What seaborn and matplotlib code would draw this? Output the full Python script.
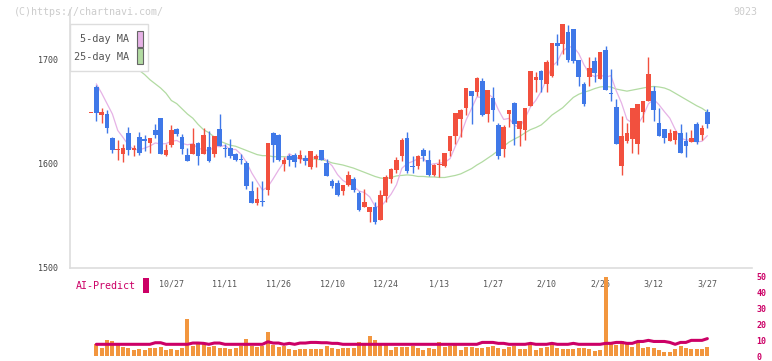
import numpy as np
import pandas as pd
import matplotlib
matplotlib.use('Agg')
import matplotlib.pyplot as plt
from matplotlib.patches import Rectangle
import seaborn as sns

sns.set_theme(style='white')
plt.rcParams['font.family'] = ['DejaVu Sans Mono', 'DejaVu Sans']

# === DATA ===
# candle 0 is the flat marker left of the first bar
opens = [1649, 1674, 1647, 1648, 1625, 1613, 1610, 1630, 1613, 1626, 1624, 1620, 1633, 1644, 1609, 1618,
         1634, 1626, 1609, 1610, 1620, 1610, 1616, 1610, 1634, 1615, 1615, 1610, 1605, 1601, 1574, 1562,
         1564, 1575, 1630, 1628, 1600, 1608, 1609, 1605, 1606, 1597, 1605, 1613, 1601, 1584, 1582, 1574,
         1580, 1586, 1572, 1559, 1554, 1559, 1546, 1569, 1586, 1594, 1608, 1625, 1598, 1598, 1613, 1604,
         1589, 1599, 1598, 1612, 1627, 1643, 1654, 1670, 1669, 1680, 1648, 1663, 1637, 1614, 1648, 1659,
         1634, 1633, 1656, 1681, 1689, 1677, 1685, 1716, 1715, 1727, 1730, 1700, 1677, 1684, 1699, 1682,
         1710, 1668, 1655, 1598, 1622, 1624, 1619, 1650, 1661, 1670, 1639, 1634, 1622, 1623, 1630, 1622,
         1621, 1638, 1628, 1650]
highs = [1649, 1676, 1654, 1652, 1626, 1623, 1619, 1636, 1618, 1631, 1628, 1625, 1638, 1644, 1619, 1637,
         1635, 1629, 1615, 1635, 1621, 1635, 1632, 1627, 1648, 1619, 1624, 1611, 1610, 1603, 1584, 1578,
         1584, 1620, 1631, 1629, 1607, 1610, 1611, 1613, 1609, 1612, 1610, 1613, 1605, 1586, 1585, 1580,
         1593, 1587, 1574, 1576, 1559, 1563, 1575, 1589, 1596, 1607, 1625, 1631, 1608, 1609, 1615, 1613,
         1600, 1605, 1611, 1627, 1649, 1653, 1673, 1670, 1684, 1683, 1671, 1674, 1639, 1637, 1652, 1660,
         1641, 1654, 1689, 1688, 1690, 1700, 1716, 1725, 1735, 1734, 1730, 1700, 1679, 1703, 1703, 1708,
         1713, 1691, 1662, 1646, 1639, 1654, 1658, 1661, 1703, 1675, 1654, 1634, 1634, 1632, 1638, 1631,
         1633, 1640, 1637, 1653]
lows = [1649, 1641, 1639, 1630, 1611, 1604, 1602, 1609, 1608, 1609, 1612, 1611, 1625, 1610, 1608, 1616,
        1627, 1610, 1603, 1610, 1599, 1610, 1602, 1607, 1617, 1607, 1606, 1603, 1600, 1576, 1562, 1561,
        1560, 1570, 1602, 1603, 1593, 1598, 1597, 1601, 1599, 1595, 1597, 1604, 1588, 1577, 1569, 1570,
        1579, 1573, 1555, 1559, 1544, 1542, 1546, 1563, 1582, 1591, 1603, 1591, 1591, 1595, 1603, 1588,
        1588, 1587, 1597, 1608, 1619, 1626, 1647, 1638, 1665, 1646, 1640, 1641, 1605, 1607, 1636, 1618,
        1617, 1623, 1656, 1669, 1669, 1669, 1684, 1695, 1706, 1698, 1697, 1675, 1656, 1675, 1679, 1682,
        1671, 1661, 1619, 1589, 1620, 1611, 1610, 1640, 1661, 1641, 1627, 1620, 1622, 1619, 1611, 1607,
        1621, 1619, 1623, 1635]
closes = [1649, 1649, 1650, 1635, 1613, 1614, 1615, 1613, 1615, 1611, 1622, 1625, 1628, 1610, 1613, 1633,
          1629, 1614, 1603, 1619, 1608, 1628, 1603, 1627, 1617, 1614, 1608, 1604, 1604, 1579, 1562, 1566,
          1563, 1620, 1618, 1604, 1604, 1604, 1602, 1609, 1603, 1612, 1608, 1604, 1588, 1579, 1570, 1580,
          1589, 1575, 1556, 1563, 1559, 1544, 1570, 1587, 1595, 1604, 1623, 1593, 1597, 1608, 1608, 1589,
          1599, 1600, 1611, 1627, 1649, 1652, 1673, 1665, 1683, 1647, 1671, 1652, 1608, 1636, 1652, 1638,
          1641, 1654, 1689, 1684, 1681, 1698, 1716, 1713, 1735, 1700, 1699, 1684, 1658, 1692, 1687, 1708,
          1671, 1667, 1619, 1627, 1630, 1654, 1658, 1661, 1686, 1652, 1627, 1625, 1630, 1632, 1611, 1617,
          1625, 1621, 1635, 1638]

# 5-day MA at the first four days (older closes are not on the chart)
ma5_start = [1677, 1668, 1658, 1648]

# 25-day MA, days 1..115
ma25 = [1728, 1723, 1718, 1713, 1708, 1704, 1699, 1695, 1690, 1686, 1681, 1677, 1673, 1668, 1661, 1658,
        1653, 1648, 1644, 1638, 1633, 1630, 1626, 1622, 1620, 1618, 1617, 1615, 1613, 1611, 1609, 1608,
        1608, 1607, 1607, 1607, 1606.5, 1606, 1605.5, 1605, 1605, 1604.5, 1604, 1603, 1601, 1600, 1599,
        1597.5, 1596, 1594, 1592, 1590, 1588, 1586.5, 1586, 1587, 1588.5, 1589, 1589.5, 1589, 1588, 1588,
        1587.5, 1587.5, 1587, 1587, 1588, 1589, 1590.5, 1593, 1595.5, 1599, 1602, 1605.5, 1609, 1613, 1617,
        1621, 1624, 1626.5, 1630, 1633, 1635, 1637.5, 1642, 1647, 1650.5, 1654, 1659, 1664, 1667, 1669,
        1670.5, 1672.5, 1674, 1674.5, 1674, 1672, 1671, 1670, 1671, 1672, 1673, 1674, 1674.5, 1674, 1673,
        1671, 1668, 1665, 1662, 1659, 1656, 1653.5, 1650]

# volume panel, days 1..115
volume = [7.4, 4.8, 9.9, 9.3, 7.4, 5.5, 4.8, 3.6, 4.2, 3.6, 4.8, 4.8, 5.5, 3.6, 4.2, 3.6, 4.8, 23.7, 6.1,
          8.6, 7.4, 5.5, 6.1, 4.8, 4.8, 4.2, 4.8, 6.1, 10.5, 6.1, 5.5, 6.1, 15.5, 6.8, 5.5, 6.1, 4.2, 3.6,
          4.2, 4.2, 4.2, 4.2, 4.2, 6.1, 4.8, 4.2, 4.8, 4.8, 4.8, 8.6, 7.4, 12.4, 9.9, 7.4, 7.4, 3.6, 5.5,
          5.5, 5.5, 6.1, 4.8, 3.6, 4.8, 4.2, 8.6, 5.5, 6.1, 6.8, 3.6, 5.5, 5.5, 4.8, 4.8, 5.5, 6.1, 4.8,
          4.2, 5.5, 6.1, 4.2, 4.2, 7.4, 3.6, 4.8, 5.5, 7.4, 4.8, 4.2, 4.2, 4.2, 4.8, 4.8, 4.2, 3.0, 3.6,
          49.9, 7.4, 6.7, 9.2, 7.4, 5.5, 8.0, 4.8, 5.5, 4.8, 3.6, 2.3, 2.3, 4.2, 6.1, 4.8, 4.2, 4.2, 4.2,
          5.5]
ai_predict = [7.4, 7.4, 7.4, 7.4, 7.4, 7.4, 7.4, 7.4, 7.4, 7.4, 7.4, 8.4, 8.4, 7.4, 7.4, 7.4, 7.4, 7.4,
              8.2, 8.2, 8.0, 7.4, 8.2, 8.2, 7.4, 7.4, 7.4, 7.4, 7.4, 7.4, 7.4, 7.4, 9.0, 8.2, 8.2, 7.4,
              8.0, 7.4, 8.2, 8.2, 8.6, 8.6, 8.4, 8.4, 8.0, 8.0, 7.4, 7.4, 7.4, 7.4, 7.4, 7.4, 7.4, 7.4,
              7.4, 7.4, 7.4, 7.4, 7.4, 7.4, 7.4, 7.4, 7.4, 7.4, 7.4, 7.4, 7.4, 7.4, 7.4, 7.4, 7.4, 7.4,
              8.6, 8.6, 8.6, 8.0, 8.0, 7.4, 7.4, 7.4, 7.4, 8.0, 7.4, 7.4, 7.4, 8.0, 7.4, 7.4, 7.4, 8.0,
              7.4, 7.4, 7.4, 7.4, 7.4, 8.0, 8.0, 8.6, 8.6, 8.0, 8.0, 9.2, 9.2, 9.9, 9.2, 9.2, 9.2, 8.6,
              7.4, 8.6, 8.6, 9.9, 9.9, 9.9, 11.0]

date_labels = ['10/27', '11/11', '11/26', '12/10', '12/24', '1/13', '1/27', '2/10', '2/26', '3/12', '3/27']
date_pos = [15, 25, 35, 45, 55, 65, 75, 85, 95, 105, 115]

# === BUILD ===
df = pd.DataFrame({'open': opens, 'high': highs, 'low': lows, 'close': closes})
df['day'] = np.arange(len(df))
df['ma5'] = df['close'].rolling(5).mean()
df.loc[1:4, 'ma5'] = ma5_start
df.loc[0, 'ma5'] = np.nan
df['ma25'] = [np.nan] + ma25
days = df['day'].values[1:]

RED, BLUE = '#F2503E', '#3F78E8'
colors = np.where(df['close'] >= df['open'], RED, BLUE)

W, H = 772, 361
fig = plt.figure(figsize=(W / 100, H / 100), dpi=100, facecolor='white')

def fx(px):
    return px / W

def fy(py):
    return 1 - py / H

x0, x1 = -3.91, 123.33
ax = fig.add_axes([fx(70), fy(268), fx(752) - fx(70), fy(10) - fy(268)])
ax.set_xlim(x0, x1)
ax.set_ylim(1500, 1748)

# moving averages behind the candles
sns.lineplot(x=days, y=df['ma25'].values[1:], ax=ax, color='#B2DBA2', lw=0.9, zorder=1)
sns.lineplot(x=days, y=df['ma5'].values[1:], ax=ax, color='#E6B2E6', lw=0.9, zorder=1)

ax.vlines(df['day'], df['low'], df['high'], colors=colors, lw=1.0, zorder=2)
body_lo = df[['open', 'close']].min(axis=1)
body_h = (df['close'] - df['open']).abs().clip(lower=0.9)
ax.bar(df['day'], body_h, bottom=body_lo, width=0.86, color=colors, linewidth=0, zorder=3)

ax.set_xlabel('')
ax.set_ylabel('')
for s in ['top', 'right']:
    ax.spines[s].set_visible(False)
for s in ['left', 'bottom']:
    ax.spines[s].set_color('#dddddd')
    ax.spines[s].set_linewidth(1.2)
ax.set_yticks([1500, 1600, 1700])
ax.set_yticklabels(['1500', '1600', '1700'])
ax.tick_params(axis='y', length=4, width=1.1, color='#dddddd', pad=4.5,
               labelsize=6, labelcolor='#444444')
ax.set_xticks(np.linspace(x0, x1, 12))
ax.set_xticklabels([])
ax.tick_params(axis='x', which='major', direction='inout', length=6, width=1.1, color='#dddddd')
ax.set_xticks(date_pos, minor=True)
ax.set_xticklabels(date_labels, minor=True)
ax.tick_params(axis='x', which='minor', length=0, pad=8.5, labelsize=6, labelcolor='#555555')

# === VOLUME PANEL ===
ax2 = fig.add_axes([fx(70), fy(356), fx(752) - fx(70), fy(277) - fy(356)])
ax2.set_facecolor('none')
sns.barplot(x=days, y=volume, ax=ax2, native_scale=True, color='#F2963E', saturation=1,
            width=0.75, linewidth=0, errorbar=None, zorder=1)
sns.lineplot(x=days, y=ai_predict, ax=ax2, color='#CC0066', lw=2.2, zorder=2)
ax2.set_xlim(x0, x1)
ax2.set_ylim(0, 50)
ax2.set_xlabel('')
ax2.set_ylabel('')
ax2.set_xticks([])
for s in ax2.spines.values():
    s.set_visible(False)
ax2.yaxis.tick_right()
ax2.set_yticks([0, 10, 20, 30, 40, 50])
ax2.tick_params(axis='y', length=0, pad=3, labelsize=6, labelcolor='#CC0066')
for t in ax2.get_yticklabels():
    t.set_fontweight('bold')

# === TEXTS AND LEGEND ===
fig.text(fx(14), fy(12), '(C)https://chartnavi.com/', color='#cccccc', fontsize=7.2, va='center')
fig.text(fx(757), fy(12), '9023', color='#cccccc', fontsize=7.2, va='center', ha='right')

fig.patches.append(Rectangle((fx(70), fy(71)), fx(148) - fx(70), fy(24) - fy(71),
                             transform=fig.transFigure, facecolor='white', edgecolor='#dddddd',
                             lw=1.0, zorder=5))
fig.text(fx(129), fy(39.5), '5-day MA', color='#555555', fontsize=7.4, ha='right', va='center', zorder=6)
fig.text(fx(129), fy(56.5), '25-day MA', color='#555555', fontsize=7.4, ha='right', va='center', zorder=6)
fig.patches.append(Rectangle((fx(136.5), fy(46.5)), fx(6), fy(0) - fy(15.5), transform=fig.transFigure,
                             facecolor='#E6B2E6', edgecolor='#666666', lw=0.8, zorder=6))
fig.patches.append(Rectangle((fx(136.5), fy(63.5)), fx(6), fy(0) - fy(15), transform=fig.transFigure,
                             facecolor='#B2DBA2', edgecolor='#666666', lw=0.8, zorder=6))

fig.text(fx(76), fy(286), 'AI-Predict', color='#CC0066', fontsize=7.2, va='center')
fig.patches.append(Rectangle((fx(142.5), fy(292.5)), fx(6), fy(0) - fy(15), transform=fig.transFigure,
                             facecolor='#CC0066', edgecolor='none', zorder=6))

fig.savefig('out.png', dpi=100, facecolor='white')
